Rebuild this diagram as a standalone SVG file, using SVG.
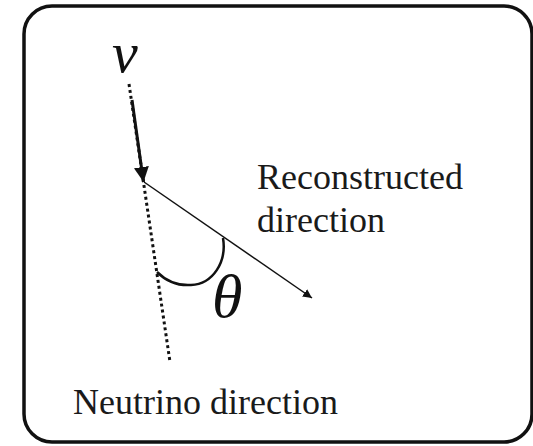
<svg xmlns="http://www.w3.org/2000/svg" width="533" height="446" viewBox="0 0 533 446">
<defs>
<style>
.lbl{font-family:"Liberation Serif","Times New Roman",serif;font-size:36px;fill:#1a1a1a}
.sym{font-family:"Liberation Serif","Times New Roman",serif;font-style:italic;fill:#111}
.dot{stroke:#111;stroke-width:3;stroke-dasharray:3 3;fill:none}
</style>
<marker id="ah" viewBox="0 0 10 10" refX="10" refY="5" markerWidth="9" markerHeight="9" markerUnits="userSpaceOnUse" orient="auto">
<path d="M0,0 L10,5 L0,10 Z" fill="#111"/>
</marker>
<marker id="ahBig" viewBox="0 0 10 10" refX="10" refY="5" markerWidth="15" markerHeight="16" markerUnits="userSpaceOnUse" orient="auto">
<path d="M0,0 L10,5 L0,10 Z" fill="#111"/>
</marker>
</defs>
<rect x="0" y="0" width="533" height="446" fill="#fff"/>
<g id="frame">
<rect x="24" y="6" width="508" height="436" rx="28" ry="28" fill="none" stroke="#111" stroke-width="3.5"/>
</g>
<g id="connectors">
<line class="dot" x1="129" y1="84" x2="170" y2="362"/>
<line x1="132" y1="100" x2="143.5" y2="182" stroke="#111" stroke-width="3" marker-end="url(#ahBig)"/>
<line x1="144" y1="182" x2="312" y2="298" stroke="#111" stroke-width="1.5" marker-end="url(#ah)"/>
<path d="M223,238 C227,262 213,284 191,285 C176,286 165,280 157,272" fill="none" stroke="#111" stroke-width="2.5"/>
</g>
<g id="nu"><text class="sym" x="112" y="72" font-size="58">ν</text></g>
<g id="theta"><text class="sym" x="212" y="317" font-size="62">θ</text></g>
<g id="reconstructed"><text class="lbl" x="257" y="189">Reconstructed</text><text class="lbl" x="257" y="232">direction</text></g>
<g id="neutrino"><text class="lbl" x="73" y="414">Neutrino direction</text></g>
</svg>
